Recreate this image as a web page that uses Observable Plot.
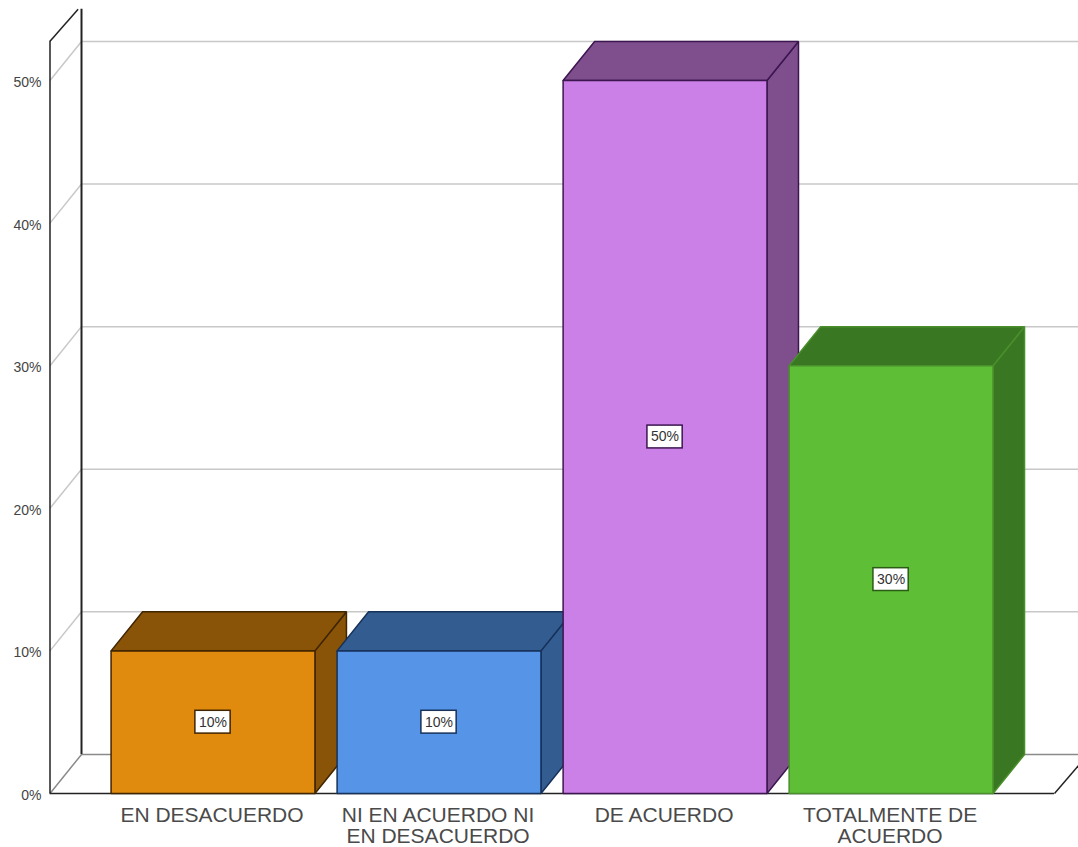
<!DOCTYPE html>
<html>
<head>
<meta charset="utf-8">
<style>html,body{margin:0;padding:0;background:#fff;overflow:hidden}svg{display:block}</style>
<script src="https://cdn.jsdelivr.net/npm/d3@7"></script>
<script src="https://cdn.jsdelivr.net/npm/@observablehq/plot@0.6"></script>
</head>
<body>
<div id="chart"></div>
<script>
const categories = ["EN DESACUERDO", "NI EN ACUERDO NI\nEN DESACUERDO", "DE ACUERDO", "TOTALMENTE DE\nACUERDO"];
const values = [10, 10, 50, 30];
const frontColors = ["#E18B0E", "#5594E6", "#CB80E7", "#5EBF37"];
const sideColors = ["#895308", "#335C90", "#7F4F8D", "#3A7722"];
const edgeColors = ["#3F2500", "#16315A", "#3C1650", "#4A8F2C"];
const gridTicks = [0, 10, 20, 30, 40, 50];

// Pseudo-3D geometry in data units
const halfW = 0.451, depthX = 0.1394, depthY = 2.74;
const wallX = -0.7212, rightFloorX = 3.723, xMax = 3.827, wallTop = 52.75;

const poly = (pts, fill, stroke, strokeWidth = 1.5) =>
  Plot.line([...pts, pts[0]], {x: "0", y: "1", fill, stroke, strokeWidth, strokeLinejoin: "miter"});

const barMarks = values.flatMap((v, i) => {
  const l = i - halfW, r = i + halfW;
  const d = [depthX, depthY];
  return [
    poly([[r, 0], [r + d[0], d[1]], [r + d[0], v + d[1]], [r, v]], sideColors[i], edgeColors[i]),
    poly([[l, v], [l + d[0], v + d[1]], [r + d[0], v + d[1]], [r, v]], sideColors[i], edgeColors[i]),
    poly([[l, 0], [l, v], [r, v], [r, 0]], frontColors[i], edgeColors[i])
  ];
});

const labelRows = values.map((v, i) => ({i, v}));

const chart = Plot.plot({
  width: 1078,
  height: 847,
  marginLeft: 50,
  marginRight: 0,
  marginTop: 0,
  marginBottom: 54,
  style: {background: "#fff", fontFamily: "'Liberation Sans', Arial, sans-serif"},
  x: {type: "linear", domain: [wallX, xMax], range: [49.5, 1077.5], axis: null},
  y: {type: "linear", domain: [0, 50], range: [793, 80], axis: null},
  marks: [
    // Grid on the back wall and side wall
    Plot.ruleY(gridTicks.filter(t => t > 0), {y: t => t + depthY, x1: wallX + depthX, x2: xMax + 0.01, stroke: "#c8c8c8", strokeWidth: 1.5}),
    Plot.link(gridTicks.filter(t => t > 0), {x1: wallX, y1: t => t, x2: wallX + depthX, y2: t => t + depthY, stroke: "#c8c8c8", strokeWidth: 1.5}),
    // Floor
    Plot.ruleY([depthY], {y: d => d, x1: wallX + depthX, x2: xMax + 0.01, stroke: "#8a8a8a", strokeWidth: 1.5}),
    Plot.link([0], {x1: wallX, y1: 0, x2: wallX + depthX, y2: depthY, stroke: "#8a8a8a", strokeWidth: 1.5}),
    Plot.link([0], {x1: rightFloorX, y1: 0, x2: xMax + 0.01, y2: 2.1, stroke: "#222", strokeWidth: 1.5}),
    Plot.ruleY([0], {x1: wallX, x2: rightFloorX, stroke: "#222", strokeWidth: 1.5}),
    // Walls
    Plot.ruleX([wallX], {y1: 0, y2: wallTop, stroke: "#222", strokeWidth: 1.5}),
    Plot.ruleX([wallX + depthX], {y1: depthY, y2: 55, stroke: "#222", strokeWidth: 2}),
    Plot.link([0], {x1: wallX, y1: wallTop, x2: wallX + depthX - 0.015, y2: 55, stroke: "#222", strokeWidth: 1.5}),
    // Bars
    ...barMarks,
    // Value boxes
    Plot.rect(labelRows, {
      x1: d => d.i - 0.078, x2: d => d.i + 0.078,
      y1: d => d.v / 2 - 0.8, y2: d => d.v / 2 + 0.8,
      fill: "#fff",
      stroke: d => edgeColors[d.i] === "#4A8F2C" ? "#2b5c16" : edgeColors[d.i],
      strokeWidth: 1.5
    }),
    Plot.text(labelRows, {x: "i", y: d => d.v / 2, text: d => d.v + "%", fontSize: 14, fill: "#333", dy: 0}),
    // Axes
    Plot.axisY({ticks: gridTicks, tickFormat: d => d + "%", tickSize: 0, tickPadding: 9, anchor: "left", label: null, fontSize: 14, fill: "#444", dy: 2}),
    Plot.axisX({ticks: [0, 1, 2, 3], tickFormat: d => categories[d], tickSize: 0, tickPadding: 14, anchor: "bottom", label: null, fontSize: 21, fill: "#4a4a4a", lineHeight: 1, dx: -1})
  ]
});
document.getElementById("chart").appendChild(chart);
</script>
</body>
</html>
